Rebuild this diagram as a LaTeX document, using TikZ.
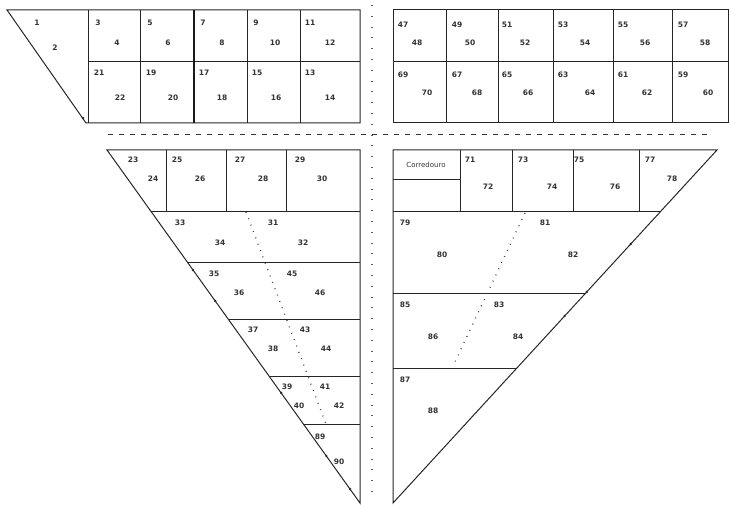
\documentclass[tikz,border=0pt]{standalone}
\usepackage{fontspec}
\setmainfont{DejaVu Sans}
\begin{document}
\begin{tikzpicture}[x=1pt,y=-1pt,
  wall/.style={draw=black!85,line width=1pt},
  thickwall/.style={draw=black!90,line width=1.8pt},
  lab/.style={font=\fontsize{7.5}{9}\selectfont\bfseries,inner sep=0pt,text=black!80},
  dotline/.style={draw=black!80,line width=1.3pt,dash pattern=on 0.8pt off 6pt},
  vdots/.style={draw=black!65,line width=1.2pt,dash pattern=on 0.8pt off 10pt},
  hdash/.style={draw=black!80,line width=1pt,dash pattern=on 5pt off 6pt},
  speck/.style={fill=black!85}]
\useasboundingbox (0,0) rectangle (730,505);

% ---------- upper left block ----------
\draw[wall] (7,10) -- (360,10) -- (360,123) -- (86,123) -- cycle;
\draw[wall] (88,10) -- (88,123);
\draw[wall] (88,62) -- (360,62);
\foreach \x in {140,247,300} \draw[wall] (\x,10) -- (\x,123);
\draw[thickwall] (194,10) -- (194,123);
\fill[speck] (83,118) circle (1.3);

\node[lab] (n1) at (37,23) {1};   \node[lab] (n2) at (55,48) {2};
\node[lab] (n3) at (98,23) {3};   \node[lab] (n4) at (117,43) {4};
\node[lab] (n5) at (150,23) {5};  \node[lab] (n6) at (168,43) {6};
\node[lab] (n7) at (203,23) {7};  \node[lab] (n8) at (222,43) {8};
\node[lab] (n9) at (256,23) {9};  \node[lab] (n10) at (275,43) {10};
\node[lab] (n11) at (310,23) {11}; \node[lab] (n12) at (330,43) {12};
\node[lab] (n21) at (99,73) {21}; \node[lab] (n22) at (120,98) {22};
\node[lab] (n19) at (151,73) {19}; \node[lab] (n20) at (173,98) {20};
\node[lab] (n17) at (204,73) {17}; \node[lab] (n18) at (222,98) {18};
\node[lab] (n15) at (257,73) {15}; \node[lab] (n16) at (276,98) {16};
\node[lab] (n13) at (310,73) {13}; \node[lab] (n14) at (330,98) {14};

% ---------- upper right block ----------
\draw[wall] (393,10) rectangle (728,123);
\draw[wall] (393,62) -- (728,62);
\foreach \x in {446,498,553,613,672} \draw[wall] (\x,10) -- (\x,123);

\node[lab] (n47) at (403,25) {47}; \node[lab] (n48) at (417,43) {48};
\node[lab] (n49) at (457,25) {49}; \node[lab] (n50) at (470,43) {50};
\node[lab] (n51) at (507,25) {51}; \node[lab] (n52) at (525,43) {52};
\node[lab] (n53) at (563,25) {53}; \node[lab] (n54) at (585,43) {54};
\node[lab] (n55) at (623,25) {55}; \node[lab] (n56) at (645,43) {56};
\node[lab] (n57) at (683,25) {57}; \node[lab] (n58) at (705,43) {58};
\node[lab] (n69) at (403,75) {69}; \node[lab] (n70) at (427,93) {70};
\node[lab] (n67) at (457,75) {67}; \node[lab] (n68) at (477,93) {68};
\node[lab] (n65) at (507,75) {65}; \node[lab] (n66) at (528,93) {66};
\node[lab] (n63) at (563,75) {63}; \node[lab] (n64) at (590,93) {64};
\node[lab] (n61) at (623,75) {61}; \node[lab] (n62) at (647,93) {62};
\node[lab] (n59) at (683,75) {59}; \node[lab] (n60) at (708,93) {60};

% ---------- separators ----------
\draw[vdots] (372,5) -- (372,500);
\draw[hdash] (108,135) -- (712,135);

% ---------- lower left triangle ----------
\draw[wall] (107,150) -- (360,150) -- (360,503) -- cycle;
\foreach \x in {166,226,286} \draw[wall] (\x,150) -- (\x,211);
\draw[wall] (150.7,211) -- (360,211);
\draw[wall] (187.3,262) -- (360,262);
\draw[wall] (228.1,319) -- (360,319);
\draw[wall] (269.0,376) -- (360,376);
\draw[wall] (303.4,424) -- (360,424);
\draw[dotline] (246,212) -- (326,424);
\foreach \p in {(193,270),(215.2,301),(281.2,393),(326.3,456),(350,489)} \fill[speck] \p circle (1.3);

\node[lab] (n23) at (133,160) {23}; \node[lab] (n24) at (153,179) {24};
\node[lab] (n25) at (177,160) {25}; \node[lab] (n26) at (200,179) {26};
\node[lab] (n27) at (240,160) {27}; \node[lab] (n28) at (263,179) {28};
\node[lab] (n29) at (300,160) {29}; \node[lab] (n30) at (322,179) {30};
\node[lab] (n33) at (180,223) {33}; \node[lab] (n34) at (220,243) {34};
\node[lab] (n31) at (273,223) {31}; \node[lab] (n32) at (303,243) {32};
\node[lab] (n35) at (214,274) {35}; \node[lab] (n36) at (239,293) {36};
\node[lab] (n45) at (292,274) {45}; \node[lab] (n46) at (320,293) {46};
\node[lab] (n37) at (253,330) {37}; \node[lab] (n38) at (273,349) {38};
\node[lab] (n43) at (305,330) {43}; \node[lab] (n44) at (326,349) {44};
\node[lab] (n39) at (287,387) {39}; \node[lab] (n40) at (299,406) {40};
\node[lab] (n41) at (325,387) {41}; \node[lab] (n42) at (339,406) {42};
\node[lab] (n89) at (320,437) {89}; \node[lab] (n90) at (339,462) {90};

% ---------- lower right triangle ----------
\draw[wall] (393,150) -- (717,150) -- (393,503) -- cycle;
\foreach \x in {460,512,573,639} \draw[wall] (\x,150) -- (\x,211);
\draw[wall] (393,180) -- (460,180);
\draw[wall] (393,211) -- (661.0,211);
\draw[wall] (393,293) -- (585.8,293);
\draw[wall] (393,368) -- (516.9,368);
\draw[dotline] (525,213) -- (454,364);
\foreach \p in {(630.7,244),(586.7,292),(564.6,316)} \fill[speck] \p circle (1.3);

\node[lab,font=\fontsize{7}{8}\selectfont] (cor) at (426,165) {Corredouro};
\node[lab] (n71) at (470,160) {71}; \node[lab] (n72) at (488,187) {72};
\node[lab] (n73) at (523,160) {73}; \node[lab] (n74) at (552,187) {74};
\node[lab] (n75) at (579,160) {75}; \node[lab] (n76) at (615,187) {76};
\node[lab] (n77) at (650,160) {77}; \node[lab] (n78) at (672,179) {78};
\node[lab] (n79) at (405,223) {79}; \node[lab] (n80) at (442,255) {80};
\node[lab] (n81) at (545,223) {81}; \node[lab] (n82) at (573,255) {82};
\node[lab] (n85) at (405,305) {85}; \node[lab] (n83) at (499,305) {83};
\node[lab] (n86) at (433,337) {86}; \node[lab] (n84) at (518,337) {84};
\node[lab] (n87) at (405,380) {87}; \node[lab] (n88) at (433,411) {88};
\end{tikzpicture}
\end{document}
